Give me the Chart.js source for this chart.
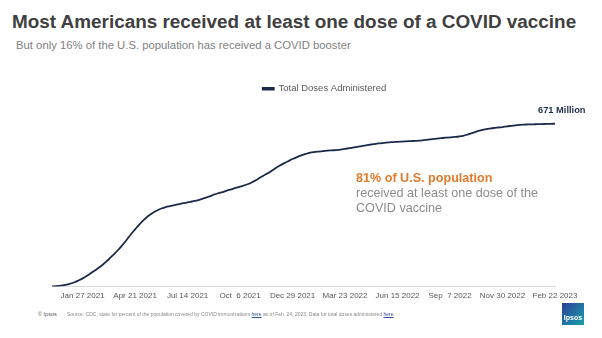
<!DOCTYPE html>
<html>
<head>
<meta charset="utf-8">
<script src="https://cdn.jsdelivr.net/npm/chart.js@4.4.0/dist/chart.umd.min.js"></script>
<style>
  body { margin: 0; width: 602px; height: 338px; background: #fff; position: relative; overflow: hidden; font-family: "Liberation Sans", Arial, sans-serif; }
  .title { position: absolute; left: 12px; top: 11px; font-size: 18.9px; font-weight: bold; color: #404040; white-space: nowrap; }
  .subtitle { position: absolute; left: 16px; top: 39px; font-size: 11.3px; color: #7f7f7f; white-space: nowrap; }
  #wrap { position: absolute; left: 0; top: 80px; width: 602px; height: 226px; }
  .note { position: absolute; left: 356px; top: 171px; font-size: 12.6px; line-height: 15px; color: #8c8c8c; }
  .note b { color: #e07a2c; }
  .foot { position: absolute; top: 311px; font-size: 5px; color: #8a8a8a; white-space: nowrap; }
  .foot u { color: #3050a0; }
  .logo { position: absolute; left: 562px; top: 303px; width: 22px; height: 22px; background: linear-gradient(135deg, #2b3f9a, #1aa0a8); color: #fff; font-size: 7px; font-weight: bold; text-align: center; line-height: 30px; }
</style>
</head>
<body>
<div class="title">Most Americans received at least one dose of a COVID vaccine</div>
<div class="subtitle">But only 16% of the U.S. population has received a COVID booster</div>
<div id="wrap"><canvas id="doses"></canvas></div>
<div class="note"><b>81% of U.S. population</b><br>received at least one dose of the<br>COVID vaccine</div>
<div class="foot" style="left:38px;font-size:5.5px;color:#555">© Ipsos</div>
<div class="foot" style="left:67px">Source: CDC, state for percent of the population covered by COVID immunizations <u>here</u> as of Feb. 24, 2023. Data for total doses administered <u>here</u>.</div>
<div class="logo">Ipsos</div>
<script>
// weekly points, first week Dec 9 2020
var startDate = new Date(2020, 11, 9);

// total doses administered, millions
var doses = [0, 1, 3, 6, 10, 16, 24, 33, 44, 56,
   68, 81, 96, 112, 130, 148, 168, 190, 214, 235,
   256, 274, 290, 303, 313, 321, 327, 331, 335, 339,
   343, 346, 350, 354, 359, 365, 371, 378, 384, 389,
   395, 400, 406, 411, 417, 423, 432, 442, 453, 463,
   474, 486, 497, 507, 516, 525, 533, 540, 546, 551,
   554, 556, 558, 560, 561, 562, 564, 567, 570, 573,
   576, 579, 582, 585, 588, 590, 592, 594, 595, 596,
   597, 598, 599, 600, 601, 603, 605, 607, 609, 611,
   613, 614, 616, 618, 621, 626, 632, 638, 643, 647,
   650, 653, 655, 657, 660, 662, 664, 666, 667, 668,
   668, 669, 669, 670, 670, 671];

var tickLabels = ['Jan 27 2021', 'Apr 21 2021', 'Jul 14 2021', 'Oct  6 2021', 'Dec 29 2021',
   'Mar 23 2022', 'Jun 15 2022', 'Sep  7 2022', 'Nov 30 2022', 'Feb 22 2023'];
var firstTick = 7;
var tickStep = 12;

var weeks = [];
for (var i = 0; i < doses.length; i++) {
   var d = new Date(startDate);
   d.setDate(d.getDate() + 7 * i);
   weeks.push(d.toDateString());
}

// "671 Million" over the last point
const endLabel = {
   id: 'endLabel',
   afterDatasetsDraw(chart) {
      const meta = chart.getDatasetMeta(0);
      const pt = meta.data[meta.data.length - 1];
      const ctx = chart.ctx;
      ctx.save();
      ctx.font = 'bold 9.3px "Liberation Sans", Arial, sans-serif';
      ctx.fillStyle = '#1f2d4e';
      ctx.textAlign = 'left';
      ctx.textBaseline = 'middle';
      ctx.fillText(doses[doses.length - 1] + ' Million', pt.x - 17, pt.y - 13);
      ctx.restore();
   }
};

// legend sits a bit right of centre in the original
const legendShift = {
   id: 'legendShift',
   afterLayout(chart) {
      chart.legend.left += 21;
      chart.legend.right += 21;
   }
};

new Chart(document.getElementById('doses'), {
   type: 'line',
   data: {
      labels: weeks,
      datasets: [{
         label: 'Total Doses Administered',
         data: doses,
         borderColor: '#1b2a4a',
         backgroundColor: '#1b2a4a',
         borderWidth: 1.8,
         pointRadius: 0,
         tension: 0.4,
         fill: false
      }]
   },
   options: {
      responsive: true,
      maintainAspectRatio: false,
      animation: false,
      layout: { padding: { left: 52, right: 47, top: 0, bottom: 0 } },
      scales: {
         x: {
            offset: false,
            grid: { display: false, drawTicks: false },
            border: { color: '#d9d9d9', width: 1 },
            ticks: {
               autoSkip: false,
               maxRotation: 0,
               padding: 5,
               color: '#595959',
               font: { size: 8, family: '"Liberation Sans", Arial, sans-serif' },
               callback: function (value, index) {
                  if (index >= firstTick && (index - firstTick) % tickStep === 0) {
                     return tickLabels[(index - firstTick) / tickStep];
                  }
                  return null;
               }
            }
         },
         y: { display: false, min: 0, max: 754 }
      },
      plugins: {
         legend: {
            position: 'top',
            labels: {
               boxWidth: 11,
               boxHeight: 1.5,
               padding: 4,
               color: '#595959',
               font: { size: 9.5, family: '"Liberation Sans", Arial, sans-serif' }
            }
         },
         tooltip: { enabled: false }
      }
   },
   plugins: [endLabel, legendShift]
});
</script>
</body>
</html>
